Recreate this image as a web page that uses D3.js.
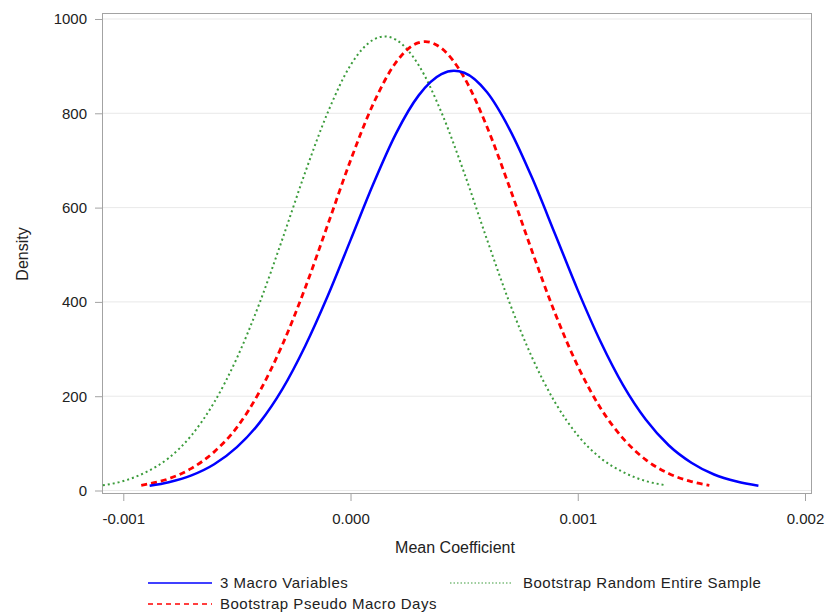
<!DOCTYPE html>
<html>
<head>
<meta charset="utf-8">
<script src="https://cdn.jsdelivr.net/npm/d3@7"></script>
<style>
  body { margin: 0; background: #fff; }
  svg text { font-family: "Liberation Sans", Arial, sans-serif; fill: #222; }
</style>
</head>
<body>
<svg width="827" height="612"></svg>
<script>
// values (x in units of 1e-4, density)
var blueX  = [-8.84, -8, -7, -6, -5, -4, -3, -2, -1, 0, 1, 2, 3, 4, 4.55, 5, 6, 7, 8, 9, 10, 11, 12, 13, 14, 15, 16, 17, 17.95];
var blueY  = [10, 17.6, 32, 55.6, 92, 144, 215, 306, 413, 531, 650, 757, 838, 883, 890, 886, 845, 766, 662, 544, 425, 316, 223, 150, 96, 59, 34, 19, 10];
var redX   = [-9.21, -9, -8, -7, -6, -5, -4, -3, -2, -1, 0, 1, 2, 3, 3.29, 4, 5, 6, 7, 8, 9, 10, 11, 12, 13, 14, 15, 15.79];
var redY   = [11, 13, 25, 47, 82, 134, 210, 309, 429, 564, 700, 820, 908, 950, 952, 938, 876, 772, 643, 506, 376, 264, 175, 110, 65, 36, 19, 11];
var greenX = [-10.9, -10, -9, -8, -7, -6, -5, -4, -3, -2, -1, 0, 1, 1.5, 2, 3, 4, 5, 6, 7, 8, 9, 10, 11, 12, 13, 13.89];
var greenY = [11, 20, 39, 69, 117, 187, 281, 398, 533, 674, 802, 902, 956, 963, 956, 902, 802, 674, 533, 398, 281, 187, 117, 69, 39, 20, 11];

var xTicks = [-0.001, 0, 0.001, 0.002];
var yTicks = [0, 200, 400, 600, 800, 1000];

var seriesNames = ["3 Macro Variables", "Bootstrap Pseudo Macro Days", "Bootstrap Random Entire Sample"];

var svg = d3.select("svg");
var plotLeft = 102, plotRight = 812, plotTop = 13, plotBottom = 494;

var x = d3.scaleLinear().domain([-0.0010937, 0.0020308]).range([plotLeft, plotRight]);
var y = d3.scaleLinear().domain([-7.4, 1012.7]).range([plotBottom, plotTop]);

// grid
svg.selectAll(".grid").data(yTicks).join("line")
  .attr("class", "grid")
  .attr("x1", plotLeft).attr("x2", plotRight)
  .attr("y1", d => y(d)).attr("y2", d => y(d))
  .attr("stroke", "#e9e9e9").attr("stroke-width", 1);

// frame
svg.append("rect")
  .attr("x", plotLeft + 0.5).attr("y", plotTop + 0.5)
  .attr("width", plotRight - plotLeft - 1).attr("height", plotBottom - plotTop - 1)
  .attr("fill", "none").attr("stroke", "#a3a3a3");

// axes
var xAxis = svg.append("g").attr("transform", "translate(0," + plotBottom + ")")
  .call(d3.axisBottom(x).tickValues(xTicks).tickSize(7).tickPadding(12)
    .tickFormat(d3.format(".3f")));
var yAxis = svg.append("g").attr("transform", "translate(" + plotLeft + ",0)")
  .call(d3.axisLeft(y).tickValues(yTicks).tickSize(7).tickPadding(8)
    .tickFormat(d3.format("d")));
[xAxis, yAxis].forEach(function(a) {
  a.select(".domain").remove();
  a.selectAll(".tick line").attr("stroke", "#a3a3a3");
  a.selectAll(".tick text").style("font-size", "15px").attr("fill", "#222")
    .style("font-family", "Liberation Sans, Arial, sans-serif");
});
xAxis.selectAll(".tick text").text(d => d === -0.001 ? "-0.001" : d3.format(".3f")(d));

// axis labels
svg.append("text").attr("x", 455).attr("y", 553).attr("text-anchor", "middle")
  .style("font-size", "16px").text("Mean Coefficient");
svg.append("text").attr("transform", "translate(28,254) rotate(-90)")
  .attr("text-anchor", "middle").style("font-size", "16px").text("Density");

// curves
var line = d3.line().x(d => x(d[0] * 1e-4)).y(d => y(d[1])).curve(d3.curveMonotoneX);
var series = [
  { name: seriesNames[0], xs: blueX, ys: blueY, color: "#0000ff", width: 2.5, dash: null },
  { name: seriesNames[1], xs: redX, ys: redY, color: "#ff0000", width: 2.8, dash: "6,4" },
  { name: seriesNames[2], xs: greenX, ys: greenY, color: "#3c9c3c", width: 2, dash: "2,3" }
];
// draw order: green under, red, blue on top
[series[2], series[1], series[0]].forEach(function(s) {
  svg.append("path")
    .datum(s.xs.map((v, i) => [v, s.ys[i]]))
    .attr("d", line)
    .attr("fill", "none")
    .attr("stroke", s.color)
    .attr("stroke-width", s.width)
    .attr("stroke-dasharray", s.dash);
});

// legend
var legendPos = [[148, 583], [148, 604], [450, 583]];
series.forEach(function(s, i) {
  var p = legendPos[i];
  var lw = i === 2 ? 63 : 64;
  svg.append("line")
    .attr("x1", p[0]).attr("x2", p[0] + lw).attr("y1", p[1]).attr("y2", p[1])
    .attr("stroke", s.color)
    .attr("stroke-width", i === 2 ? 1.2 : 1.5)
    .attr("stroke-dasharray", i === 1 ? "5,4" : (i === 2 ? "1.5,2" : null));
  svg.append("text").attr("x", p[0] + lw + (i === 2 ? 10 : 8)).attr("y", p[1] + 4.5)
    .style("font-size", "15px").style("letter-spacing", "0.5px").text(s.name);
});
</script>
</body>
</html>
